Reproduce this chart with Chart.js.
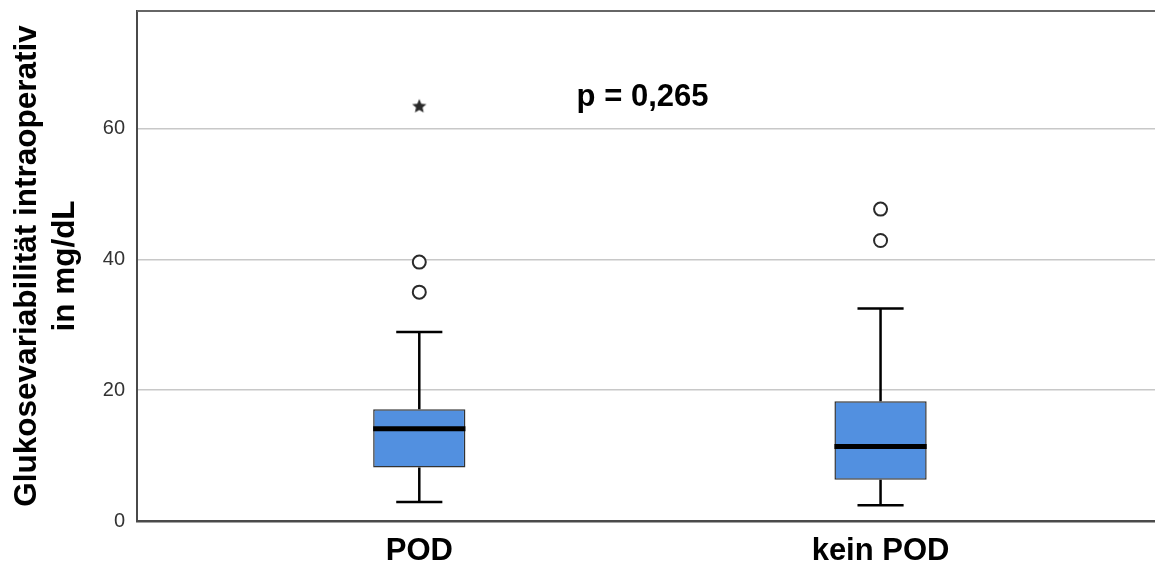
<!DOCTYPE html>
<html lang="de">
<head>
    <meta charset="UTF-8">
    <title>Glukosevariabilität intraoperativ</title>
    <style>
        body {
            margin: 0;
            background: #fff;
        }
        #chartContainer {
            width: 1155px;
            height: 568px;
        }
    </style>
    <script src="https://cdn.jsdelivr.net/npm/chart.js"></script>
</head>
<body>
    <div id="chartContainer">
        <canvas id="boxChart"></canvas>
    </div>

    <script>
        // values
        const categories = ['POD', 'kein POD'];
        const whiskerLow = [2.9, 2.4];
        const q1 = [8.2, 6.3];
        const median = [14.1, 11.4];
        const q3 = [17.1, 18.3];
        const whiskerHigh = [28.9, 32.5];
        const outliers = [[35.0, 39.6], [42.9, 47.7]];
        const extremes = [[63.4], []];
        const yTicks = [0, 20, 40, 60];
        const pLabel = 'p = 0,265';
        const pAt = { x: 1.484, y: 63.4 };

        const boxHalf = 0.1;
        const capHalf = 0.05;
        const font = 'Liberation Sans, Arial, sans-serif';

        const boxData = [];
        const whiskerData = [];
        const medianData = [];
        const outlierData = [];
        const extremeData = [];
        categories.forEach((c, i) => {
            const x = i + 1;
            boxData.push({ x: x, y: [q1[i], q3[i]] });
            whiskerData.push(
                { x: x, y: q3[i] }, { x: x, y: whiskerHigh[i] }, { x: x, y: null },
                { x: x, y: q1[i] }, { x: x, y: whiskerLow[i] }, { x: x, y: null },
                { x: x - capHalf, y: whiskerHigh[i] }, { x: x + capHalf, y: whiskerHigh[i] }, { x: x, y: null },
                { x: x - capHalf, y: whiskerLow[i] }, { x: x + capHalf, y: whiskerLow[i] }, { x: x, y: null }
            );
            medianData.push({ x: x - boxHalf, y: median[i] }, { x: x + boxHalf, y: median[i] }, { x: x, y: null });
            outliers[i].forEach(v => outlierData.push({ x: x, y: v }));
            extremes[i].forEach(v => extremeData.push({ x: x, y: v }));
        });

        // small filled star for the extreme values
        const star = document.createElement('canvas');
        star.width = 18;
        star.height = 18;
        const sctx = star.getContext('2d');
        sctx.fillStyle = '#2a2a2a';
        sctx.beginPath();
        for (let k = 0; k < 10; k++) {
            const r = k % 2 === 0 ? 7.5 : 3.4;
            const a = -Math.PI / 2 + k * Math.PI / 5;
            sctx.lineTo(9 + r * Math.cos(a), 9 + r * Math.sin(a));
        }
        sctx.closePath();
        sctx.fill();

        const frame = {
            id: 'frame',
            afterDraw(chart) {
                const { ctx, chartArea, scales } = chart;
                ctx.save();
                ctx.strokeStyle = '#666';
                ctx.lineWidth = 2;
                ctx.beginPath();
                ctx.moveTo(chartArea.left, chartArea.top);
                ctx.lineTo(chartArea.right, chartArea.top);
                ctx.stroke();
                ctx.font = 'bold 31px ' + font;
                ctx.fillStyle = '#000';
                ctx.textAlign = 'center';
                ctx.textBaseline = 'alphabetic';
                ctx.fillText(pLabel, scales.x.getPixelForValue(pAt.x), scales.y.getPixelForValue(pAt.y));
                ctx.restore();
            }
        };

        // keep tick labels from pushing the plot area inwards
        function noPadding(s) {
            s.paddingTop = 0;
            s.paddingBottom = 0;
            s.paddingLeft = 0;
            s.paddingRight = 0;
        }

        new Chart(document.getElementById('boxChart'), {
            type: 'bar',
            data: {
                datasets: [
                    {
                        type: 'bar',
                        data: boxData,
                        backgroundColor: '#5290e0',
                        borderColor: '#333',
                        borderWidth: 1.5,
                        borderSkipped: false,
                        categoryPercentage: 1,
                        barPercentage: 0.2,
                        order: 4
                    },
                    {
                        type: 'line',
                        data: whiskerData,
                        borderColor: '#000',
                        borderWidth: 2.5,
                        pointRadius: 0,
                        order: 3
                    },
                    {
                        type: 'line',
                        data: medianData,
                        borderColor: '#000',
                        borderWidth: 5,
                        pointRadius: 0,
                        order: 2
                    },
                    {
                        type: 'line',
                        data: outlierData,
                        showLine: false,
                        pointStyle: 'circle',
                        pointRadius: 6.5,
                        pointBorderWidth: 2,
                        pointBorderColor: '#2a2a2a',
                        pointBackgroundColor: '#fff',
                        order: 1
                    },
                    {
                        type: 'line',
                        data: extremeData,
                        showLine: false,
                        pointStyle: star,
                        pointRadius: 9,
                        order: 0
                    }
                ]
            },
            options: {
                responsive: true,
                maintainAspectRatio: false,
                animation: false,
                layout: {
                    autoPadding: false,
                    padding: { top: 11, right: 0, bottom: 0, left: 0 }
                },
                plugins: {
                    legend: { display: false },
                    tooltip: { enabled: false }
                },
                scales: {
                    x: {
                        type: 'linear',
                        bounds: 'data',
                        min: 0.388,
                        max: 2.595,
                        offset: false,
                        grid: { display: false, drawTicks: false },
                        border: { display: true, color: '#4a4a4a', width: 2.5 },
                        afterBuildTicks: s => { s.ticks = categories.map((c, i) => ({ value: i + 1 })); },
                        afterFit: s => { s.height = 47; noPadding(s); },
                        ticks: {
                            padding: 12,
                            color: '#000',
                            font: { family: font, size: 31, weight: 'bold' },
                            callback: v => categories[v - 1]
                        }
                    },
                    y: {
                        type: 'linear',
                        bounds: 'data',
                        min: 0,
                        max: 78,
                        grid: { color: '#c8c8c8', lineWidth: 1.5, drawTicks: false },
                        border: { display: true, color: '#4a4a4a', width: 2 },
                        afterBuildTicks: s => { s.ticks = yTicks.map(v => ({ value: v })); },
                        afterFit: s => { s.width = 137; noPadding(s); },
                        ticks: {
                            padding: 12,
                            color: '#333',
                            font: { family: font, size: 20 }
                        },
                        title: {
                            display: true,
                            text: ['Glukosevariabilität intraoperativ', 'in mg/dL'],
                            color: '#000',
                            font: { family: font, size: 31.5, weight: 'bold', lineHeight: 1.22 },
                            padding: { top: 8, bottom: 0 }
                        }
                    }
                }
            },
            plugins: [frame]
        });
    </script>
</body>
</html>
